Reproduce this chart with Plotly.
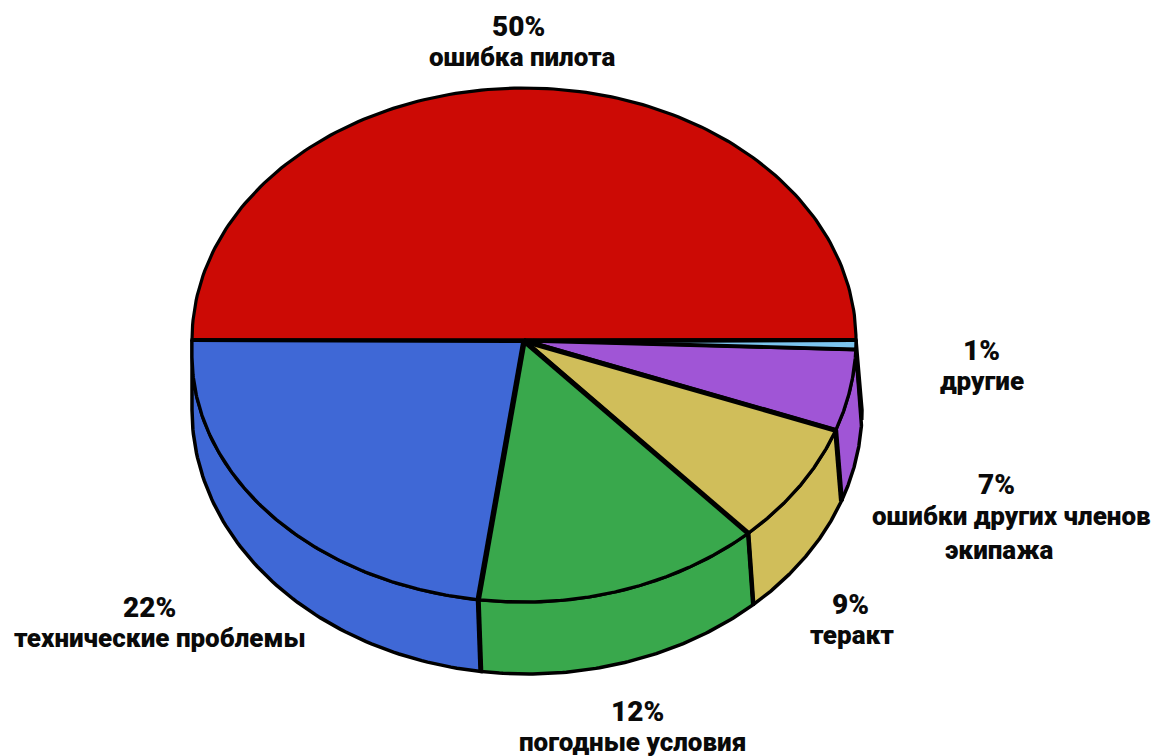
import numpy as np
import plotly.graph_objects as go

# Data as printed and as drawn
categories = ["ошибка пилота", "технические проблемы", "погодные условия", "теракт",
              "ошибки других членов экипажа", "другие"]
printed_pct = [50, 22, 12, 9, 7, 1]
# The drawing's sectors are not exactly to scale: shares
drawn_share = [50, 22.8, 14.0, 7.6, 5.0, 0.6]
colors = ["#CC0A05", "#3F68D6", "#39A84C", "#D0BE5A", "#A055D6", "#7CC5EE"]

# Label lines
label_lines = ["50%", "ошибка пилота", "22%", "технические проблемы", "12%", "погодные условия",
               "9%", "теракт", "7%", "ошибки других членов", "экипажа", "1%", "другие"]
label_x = [518, 522, 149, 160, 637, 632, 850, 852, 996, 1011, 999, 981, 982]
label_y = [26, 57, 607, 638, 711, 742, 604, 635, 484, 516, 550, 350, 381]
pct_font_size = 28
name_font_size = 26

# Ellipse geometry of the drawing, in picture units
CX, CY, RX, RY_UP, RY_DOWN = 524, 340, 332, 252, 262
LEFT_CY, LEFT_RY = 355, 247
BX, BY, BRX, BRY = 527, 410, 335, 264
spoke_widths = [4, 4, 5.5, 5, 5, 3, 4]
seam_widths = [0, 0, 5, 4.5, 5, 0, 0]


def top_xy(theta):
    t = np.radians(theta)
    c, s = np.cos(t), np.sin(t)
    y = np.where(s > 0, CY - RY_UP * s,
                 np.where(c < 0, LEFT_CY - LEFT_RY * s, CY - RY_DOWN * s))
    return CX + RX * c, y


def bottom_xy(theta):
    t = np.radians(theta)
    return BX + BRX * np.cos(t), BY - BRY * np.sin(t)


edges = np.concatenate([[0], np.cumsum(drawn_share)]) / sum(drawn_share) * 360

fig = go.Figure()

# Side walls, only for sectors on the front half
for i, cat in enumerate(categories):
    a, b = edges[i], edges[i + 1]
    if b <= 180:
        continue
    th = np.linspace(a, b, 80)
    xt, yt = top_xy(th)
    xb, yb = bottom_xy(th[::-1])
    fig.add_trace(go.Scatter(
        x=np.concatenate([xt, xb, xt[:1]]), y=np.concatenate([yt, yb, yt[:1]]),
        mode="lines", fill="toself", fillcolor=colors[i],
        line=dict(color="black", width=3.5), hoverinfo="skip", showlegend=False))

# Vertical seams between wall sectors
for e, w in zip(edges, seam_widths):
    if w:
        xt, yt = top_xy(np.array([e]))
        xb, yb = bottom_xy(np.array([e]))
        fig.add_trace(go.Scatter(x=[xt[0], xb[0]], y=[yt[0], yb[0]], mode="lines",
                                 line=dict(color="black", width=w),
                                 hoverinfo="skip", showlegend=False))

# Top face
for i, cat in enumerate(categories):
    a, b = edges[i], edges[i + 1]
    th = np.linspace(a, b, 160)
    xt, yt = top_xy(th)
    # the left rim runs straight down from the horizontal diameter
    if a == 180:
        xt = np.concatenate([[CX - RX], xt])
        yt = np.concatenate([[CY], yt])
    fig.add_trace(go.Scatter(
        x=np.concatenate([[CX], xt, [CX]]), y=np.concatenate([[CY], yt, [CY]]),
        mode="lines", fill="toself", fillcolor=colors[i],
        line=dict(color="black", width=3.2), name=cat,
        text=f"{printed_pct[i]}% {cat}", hoverinfo="text", showlegend=False))

# Spokes of the top face
for e, w in zip(edges, spoke_widths):
    xt, yt = top_xy(np.array([e]))
    end_y = CY if e == 180 else yt[0]
    fig.add_trace(go.Scatter(x=[CX, xt[0]], y=[CY + 1, end_y], mode="lines",
                             line=dict(color="black", width=w),
                             hoverinfo="skip", showlegend=False))

annotations = [
    dict(x=x, y=y, xref="x", yref="y", text=t, showarrow=False, xanchor="center", yanchor="middle",
         font=dict(family="Roboto", color="#0a0a0a", weight=900,
                   size=pct_font_size if t.endswith("%") else name_font_size))
    for t, x, y in zip(label_lines, label_x, label_y)
]

fig.update_layout(
    width=1157, height=756, margin=dict(l=0, r=0, t=0, b=0),
    paper_bgcolor="white", plot_bgcolor="white", annotations=annotations,
    xaxis=dict(range=[0, 1157], visible=False, fixedrange=True),
    yaxis=dict(range=[756, 0], visible=False, fixedrange=True),
)
fig.write_html("out.html", config=dict(displayModeBar=False),
               post_script="document.body.style.margin='0';")
